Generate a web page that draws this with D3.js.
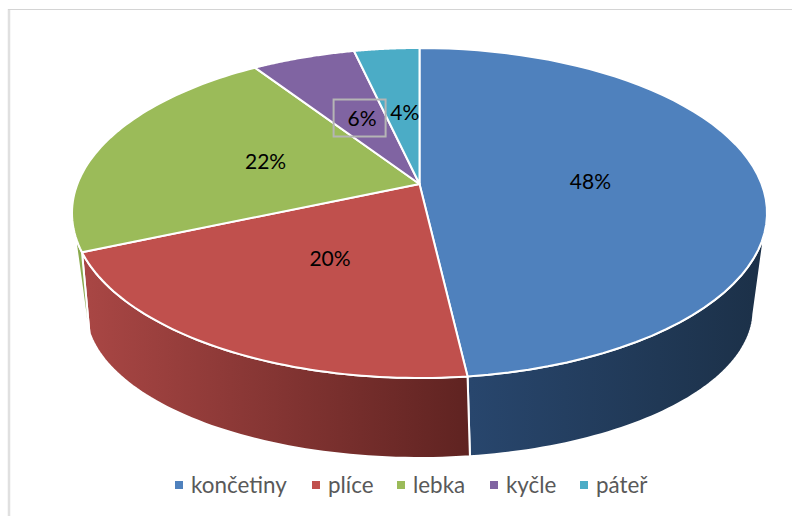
<!DOCTYPE html>
<html>
<head>
<meta charset="utf-8">
<script src="https://cdn.jsdelivr.net/npm/d3@7"></script>
<style>
  html, body { margin: 0; padding: 0; background: #fff; }
  text { font-family: Lato, "Open Sans", sans-serif; }
</style>
</head>
<body>
<div id="chart"></div>
<script>
const categories = ["končetiny", "plíce", "lebka", "kyčle", "páteř"];
const values = [48.15, 20.35, 22.2, 5.7, 3.6];
const topColors = ["#4f81bd", "#c0504d", "#9bbb59", "#8064a2", "#4bacc6"];
const wallStart = ["#28466d", "#a84644", "#8aaa4e", "#6c5590", "#3f93a9"];
const wallEnd = ["#1c3149", "#5f2321", "#8aaa4e", "#6c5590", "#3f93a9"];
const legendX = [175, 312, 397, 490, 580];

const width = 792;
const height = 516;

const svg = d3.select("#chart")
  .append("svg")
  .attr("width", width)
  .attr("height", height);

const color = d3.scaleOrdinal().domain(categories).range(topColors);
const pie = d3.pie().sort(null).value(d => d.value);
const slices = pie(categories.map((name, i) => ({ name, value: values[i] })));

// circle seen in perspective: centre of the disc sits above the middle of the ellipse
const topRim = { cx: 419.5, cy: 213, rx: 347.5, ry: 165, tilt: -0.1758 };
const lowRim = { cx: 419.5, cy: 310, rx: 334, ry: 148, tilt: -0.26 };

// only this arc of the side wall faces the viewer
const frontStart = 106.6 * Math.PI / 180;
const frontEnd = 253.4 * Math.PI / 180;

function project(rim, angle, r) {
  const u = Math.sin(angle) * r;
  const v = -Math.cos(angle) * r;
  const w = 1 + rim.tilt * v;
  return [
    rim.cx + rim.rx * Math.sqrt(1 - rim.tilt * rim.tilt) * u / w,
    rim.cy + rim.ry * (v + rim.tilt) / w
  ];
}

function rimPoints(rim, a0, a1) {
  return d3.range(0, 61).map(i => project(rim, a0 + (a1 - a0) * i / 60, 1));
}

const line = d3.line();
const defs = svg.append("defs");

const walls = slices
  .map((d, i) => ({
    i,
    a0: Math.max(d.startAngle, frontStart),
    a1: Math.min(d.endAngle, frontEnd)
  }))
  .filter(d => d.a1 > d.a0);

walls.forEach(d => {
  const xs = rimPoints(lowRim, d.a0, d.a1).map(p => p[0]);
  const grad = defs.append("linearGradient")
    .attr("id", "wall" + d.i)
    .attr("gradientUnits", "userSpaceOnUse")
    .attr("x1", d3.min(xs))
    .attr("x2", d3.max(xs))
    .attr("y1", 0)
    .attr("y2", 0);
  grad.append("stop").attr("offset", 0).attr("stop-color", wallStart[d.i]);
  grad.append("stop").attr("offset", 1).attr("stop-color", wallEnd[d.i]);
});

// frame
svg.append("line")
  .attr("x1", 9).attr("x2", 9)
  .attr("y1", 9).attr("y2", height)
  .attr("stroke", "#e0e0e0")
  .attr("stroke-width", 2.5);

svg.append("line")
  .attr("x1", 8).attr("x2", width)
  .attr("y1", 9.5).attr("y2", 9.5)
  .attr("stroke", "#d4d4d4")
  .attr("stroke-width", 1.2);

// side walls
svg.append("g")
  .selectAll("path")
  .data(walls)
  .enter().append("path")
  .attr("d", d => line(rimPoints(topRim, d.a0, d.a1)
    .concat(rimPoints(lowRim, d.a0, d.a1).reverse())) + "Z")
  .attr("fill", d => "url(#wall" + d.i + ")")
  .attr("stroke", "#fff")
  .attr("stroke-width", 2)
  .attr("stroke-linejoin", "round");

// top faces
svg.append("g")
  .selectAll("path")
  .data(slices)
  .enter().append("path")
  .attr("d", d => line([project(topRim, 0, 0)].concat(rimPoints(topRim, d.startAngle, d.endAngle))) + "Z")
  .attr("fill", d => color(d.data.name))
  .attr("stroke", "#fff")
  .attr("stroke-width", 2)
  .attr("stroke-linejoin", "round");

// data labels, nudged a little to sit where the original has them
const labelPos = d => project(topRim, (d.startAngle + d.endAngle) / 2, 0.5);
const nudgeX = [1, 3, 6, 5, 3];
const nudgeY = [2, 0, 0, 3, 2];

svg.append("g")
  .selectAll("text")
  .data(slices)
  .enter().append("text")
  .attr("x", d => labelPos(d)[0] + nudgeX[d.index])
  .attr("y", d => labelPos(d)[1] + nudgeY[d.index])
  .attr("text-anchor", "middle")
  .attr("dy", ".35em")
  .attr("font-size", 21)
  .attr("fill", "#000")
  .text(d => d3.format(".0f")(d.value) + "%");

// the 6% label has its frame left on
const boxed = labelPos(slices[3]);
svg.append("rect")
  .attr("x", boxed[0] + nudgeX[3] - 28.5)
  .attr("y", boxed[1] + nudgeY[3] - 19.5)
  .attr("width", 52)
  .attr("height", 37)
  .attr("fill", "none")
  .attr("stroke", "#b5b5b5")
  .attr("stroke-width", 2);

// legend
const legend = svg.append("g")
  .selectAll("g")
  .data(categories)
  .enter().append("g")
  .attr("transform", (d, i) => "translate(" + legendX[i] + ",485)");

legend.append("rect")
  .attr("y", -4)
  .attr("width", 8)
  .attr("height", 8)
  .attr("fill", d => color(d));

legend.append("text")
  .attr("x", 16)
  .attr("dy", ".35em")
  .attr("font-size", 22.4)
  .attr("fill", "#595959")
  .text(d => d);
</script>
</body>
</html>
